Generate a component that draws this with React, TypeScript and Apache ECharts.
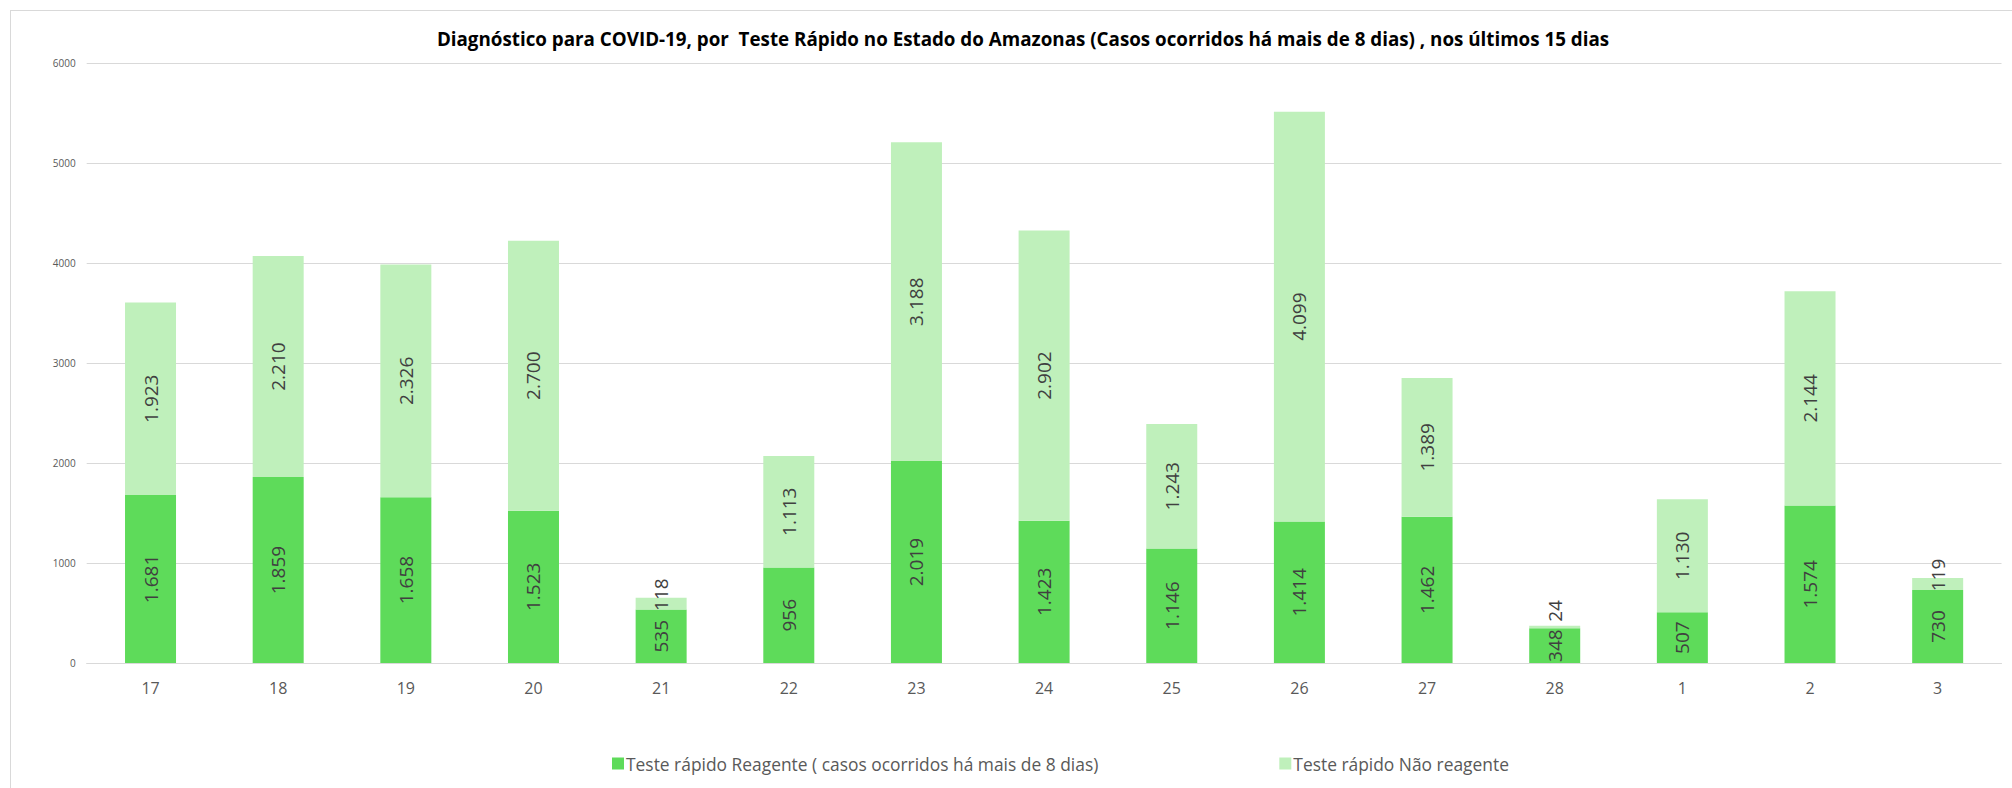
import React, { useEffect, useRef } from "react";
import * as echarts from "echarts";

const title =
  "Diagnóstico para COVID-19, por  Teste Rápido no Estado do Amazonas (Casos ocorridos há mais de 8 dias) , nos últimos 15 dias";
const days = ["17", "18", "19", "20", "21", "22", "23", "24", "25", "26", "27", "28", "1", "2", "3"];
const reagente = [1681, 1859, 1658, 1523, 535, 956, 2019, 1423, 1146, 1414, 1462, 348, 507, 1574, 730];
const naoReagente = [1923, 2210, 2326, 2700, 118, 1113, 3188, 2902, 1243, 4099, 1389, 24, 1130, 2144, 119];
const seriesNames = [
  "Teste rápido Reagente ( casos ocorridos há mais de 8 dias)",
  "Teste rápido Não reagente",
];

const fmt = (v: number) => String(v).replace(/\B(?=(\d{3})+(?!\d))/g, ".");

export default function App() {
  const ref = useRef<HTMLDivElement>(null);
  useEffect(() => {
    if (!ref.current) return;
    const chart = echarts.init(ref.current, null, { renderer: "svg" });
    const labelBase = {
      show: true,
      position: "inside" as const,
      rotate: 90,
      fontFamily: "Open Sans",
      fontSize: 19,
      color: "#404040",
      formatter: (p: any) => fmt(p.value),
    };
    chart.setOption({
      animation: false,
      backgroundColor: "#ffffff",
      textStyle: { fontFamily: "Open Sans" },
      title: {
        text: title,
        left: 1018,
        top: 24,
        textAlign: "center",
        textStyle: { fontFamily: "Open Sans", fontWeight: "bold", fontSize: 18.8, color: "#000000" },
      },
      graphic: [
        { type: "line", shape: { x1: 10, y1: 10.5, x2: 2012, y2: 10.5 }, style: { stroke: "#d9d9d9", lineWidth: 1 } },
        { type: "line", shape: { x1: 10.5, y1: 10, x2: 10.5, y2: 788 }, style: { stroke: "#d9d9d9", lineWidth: 1 } },
      ],
      legend: {
        left: 607,
        top: 750,
        itemWidth: 12,
        itemHeight: 12,
        itemGap: 181,
        icon: "rect",
        textStyle: { fontFamily: "Open Sans", fontSize: 17.4, color: "#595959", padding: [0, 0, 0, -3] },
        data: seriesNames,
      },
      grid: { left: 86.7, right: 10.5, top: 63, bottom: 125, containLabel: false },
      xAxis: {
        type: "category",
        data: days,
        axisLine: { show: true, lineStyle: { color: "#d9d9d9" } },
        axisTick: { show: false },
        axisLabel: { fontFamily: "Open Sans", fontSize: 16, color: "#595959", margin: 17 },
      },
      yAxis: {
        type: "value",
        min: 0,
        max: 6000,
        interval: 1000,
        axisLine: { show: false },
        axisTick: { show: false },
        splitLine: { lineStyle: { color: "#d9d9d9" } },
        axisLabel: {
          fontFamily: "Open Sans",
          fontSize: 10,
          color: "#595959",
          margin: 11,
          formatter: (v: number) => String(v),
        },
      },
      series: [
        {
          name: seriesNames[0],
          type: "bar",
          stack: "t",
          barWidth: 51,
          itemStyle: { color: "#5EDB5A" },
          label: labelBase,
          data: reagente,
        },
        {
          name: seriesNames[1],
          type: "bar",
          stack: "t",
          barWidth: 51,
          itemStyle: { color: "#BFF0BB" },
          label: labelBase,
          data: naoReagente.map((v) =>
            v < 200 ? { value: v, label: { offset: [v < 50 ? 16 : 9, 0] } } : v
          ),
        },
      ],
    });
    return () => chart.dispose();
  }, []);
  return (
    <div
      ref={ref}
      style={{ position: "fixed", left: 0, top: 0, width: 2012, height: 788 }}
    />
  );
}
